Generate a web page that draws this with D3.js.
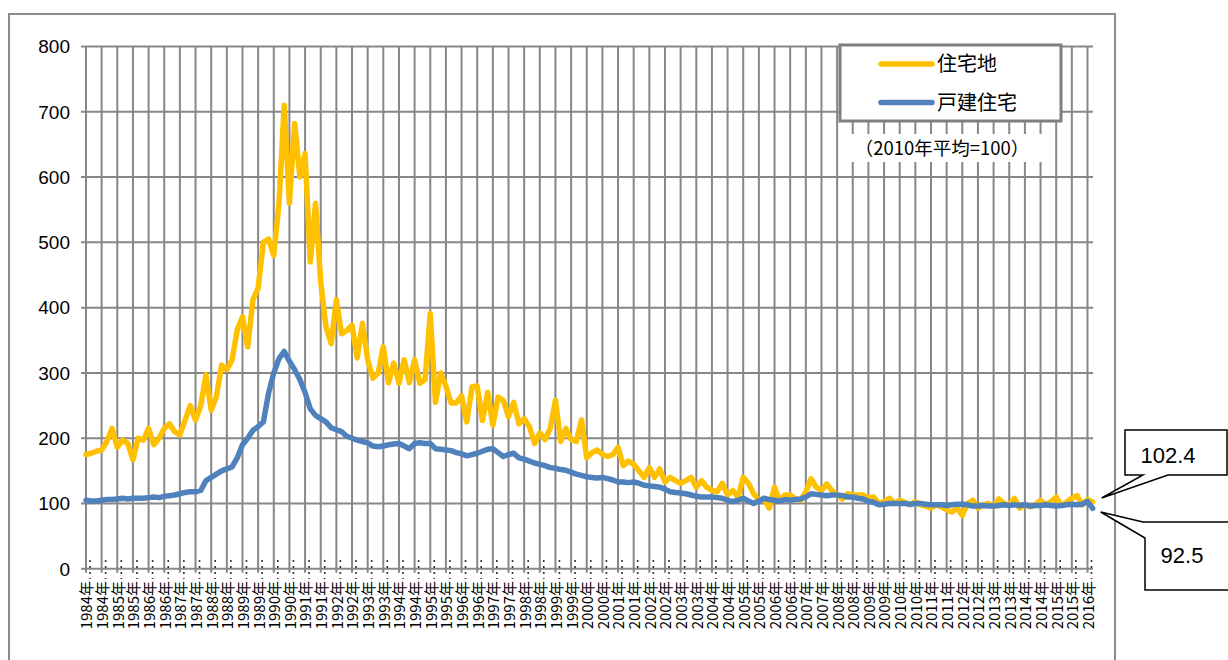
<!DOCTYPE html>
<html>
<head>
<meta charset="utf-8">
<script src="https://cdn.jsdelivr.net/npm/d3@7"></script>
<style>
  body { margin: 0; background: #fff; }
  svg { display: block; }
</style>
</head>
<body>
<script>
// bimonthly index values (2010 avg = 100), Jan 1984 .. Mar 2016
const startYear = 1984;
const stepMonths = 2;

const residentialLand = [
  175, 177, 180, 182, 195, 215,   // 1984
  186, 197, 192, 167, 200, 197,   // 1985
  215, 190, 200, 215, 222, 210,   // 1986
  205, 228, 250, 228, 250, 297,   // 1987
  243, 264, 312, 305, 320, 366,   // 1988
  386, 340, 412, 430, 500, 505,   // 1989
  480, 560, 710, 560, 682, 600,   // 1990
  636, 470, 560, 440, 371, 345,   // 1991
  412, 360, 365, 373, 323, 376,   // 1992
  320, 292, 300, 340, 285, 315,   // 1993
  284, 320, 285, 320, 284, 290,   // 1994
  391, 255, 300, 280, 254, 254,   // 1995
  265, 225, 279, 280, 227, 270,   // 1996
  220, 263, 258, 233, 255, 222,   // 1997
  230, 218, 192, 208, 198, 215,   // 1998
  258, 195, 215, 198, 195, 228,   // 1999
  170, 178, 182, 175, 172, 175,   // 2000
  186, 158, 165, 160, 150, 140,   // 2001
  155, 140, 153, 133, 140, 135,   // 2002
  131, 135, 140, 125, 135, 125,   // 2003
  120, 118, 131, 113, 120, 110,   // 2004
  140, 131, 115, 105, 107, 93,    // 2005
  125, 105, 113, 113, 107, 105,   // 2006
  118, 138, 125, 120, 130, 120,   // 2007
  113, 107, 115, 113, 113, 113,   // 2008
  108, 110, 100, 103, 108, 100,   // 2009
  105, 102, 98, 103, 98, 96,      // 2010
  93, 98, 95, 90, 87, 93,         // 2011
  82, 100, 105, 93, 98, 100,      // 2012
  95, 107, 100, 98, 108, 93,      // 2013
  98, 95, 98, 105, 98, 103,       // 2014
  110, 97, 102, 108, 112, 98,     // 2015
  106, 102.4                      // 2016
];

const detachedHouses = [
  105, 104, 104, 105, 106, 106,   // 1984
  107, 108, 107, 108, 108, 108,   // 1985
  109, 110, 109, 111, 112, 113,   // 1986
  115, 117, 118, 118, 120, 135,   // 1987
  140, 145, 150, 153, 156, 170,   // 1988
  190, 200, 212, 218, 225, 269,   // 1989
  300, 322, 333, 318, 305, 290,   // 1990
  270, 245, 235, 230, 225, 216,   // 1991
  213, 210, 203, 200, 197, 195,   // 1992
  193, 188, 187, 188, 190, 191,   // 1993
  192, 188, 184, 192, 193, 192,   // 1994
  192, 184, 183, 182, 181, 178,   // 1995
  176, 173, 175, 177, 180, 183,   // 1996
  184, 178, 172, 175, 177, 170,   // 1997
  168, 165, 162, 160, 158, 155,   // 1998
  154, 152, 151, 148, 145, 143,   // 1999
  141, 140, 139, 140, 138, 136,   // 2000
  133, 133, 132, 133, 131, 128,   // 2001
  127, 126, 125, 122, 118, 117,   // 2002
  116, 115, 113, 111, 110, 110,   // 2003
  110, 109, 108, 105, 103, 105,   // 2004
  108, 104, 100, 104, 108, 106,   // 2005
  105, 104, 106, 105, 106, 107,   // 2006
  110, 115, 114, 113, 112, 113,   // 2007
  113, 112, 110, 110, 108, 107,   // 2008
  103, 102, 98, 99, 100, 100,     // 2009
  100, 100, 99, 100, 100, 99,     // 2010
  98, 98, 98, 97, 98, 99,         // 2011
  99, 98, 96, 96, 97, 96,         // 2012
  96, 97, 98, 97, 98, 97,         // 2013
  98, 96, 97, 97, 98, 97,         // 2014
  96, 97, 98, 99, 98, 99,         // 2015
  103, 92.5                       // 2016
];

const seriesNames = ["住宅地", "戸建住宅"];
const seriesColors = ["#FFC000", "#4F81BD"];
const yTicks = [0, 100, 200, 300, 400, 500, 600, 700, 800];
const noteText = "（2010年平均=100）";
const lastLabels = ["102.4", "92.5"];

const W = 1228, H = 660;
const svg = d3.select("body").append("svg")
  .attr("width", W).attr("height", H);

// outer chart frame
svg.append("rect")
  .attr("x", 9).attr("y", 14)
  .attr("width", 1106).attr("height", 700)
  .attr("fill", "#fff")
  .attr("stroke", "#8c8c8c").attr("stroke-width", 2);

const lastMonth = (residentialLand.length - 1) * stepMonths;
const x = d3.scaleLinear().domain([0, lastMonth]).range([86, 1092.7]);
const y = d3.scaleLinear().domain([0, 800]).range([568.8, 46.5]);

const gridMonths = d3.range(0, lastMonth, 6); // every half year

// horizontal grid + ticks
svg.append("g").selectAll("line")
  .data(yTicks)
  .join("line")
  .attr("x1", 81).attr("x2", 1093)
  .attr("y1", d => y(d)).attr("y2", d => y(d))
  .attr("stroke", "#878787").attr("stroke-width", 2);

// vertical grid
svg.append("g").selectAll("line")
  .data(gridMonths)
  .join("line")
  .attr("x1", d => x(d)).attr("x2", d => x(d))
  .attr("y1", y(800)).attr("y2", y(0) + 4)
  .attr("stroke", "#878787").attr("stroke-width", 2);

// dotted minor marks near the axis
svg.append("g").selectAll("line")
  .data(gridMonths)
  .join("line")
  .attr("x1", d => x(d) + 4).attr("x2", d => x(d) + 4)
  .attr("y1", 560).attr("y2", 579)
  .attr("stroke", "#333").attr("stroke-width", 1.6)
  .attr("stroke-dasharray", "2,4");

// y labels
svg.append("g").selectAll("text")
  .data(yTicks)
  .join("text")
  .attr("x", 70).attr("y", d => y(d))
  .attr("dy", "0.36em")
  .attr("text-anchor", "end")
  .style("font-family", "'Liberation Sans', Arial, sans-serif")
  .style("font-size", "19px")
  .attr("fill", "#000")
  .text(d => d);

// x labels (rotated)
svg.append("g").selectAll("text")
  .data(gridMonths)
  .join("text")
  .attr("transform", d => `translate(${x(d) + 1},581) rotate(-90)`)
  .attr("text-anchor", "end")
  .attr("dy", "0.36em")
  .style("font-family", "'Noto Sans CJK JP', sans-serif")
  .style("font-size", "15px")
  .attr("fill", "#000")
  .text(d => (startYear + Math.floor(d / 12)) + "年");

// series lines
const line = d3.line()
  .x((d, i) => x(i * stepMonths))
  .y(d => y(d))
  .curve(d3.curveLinear);

[residentialLand, detachedHouses].forEach((s, k) => {
  svg.append("path")
    .datum(s)
    .attr("d", line)
    .attr("fill", "none")
    .attr("stroke", seriesColors[k])
    .attr("stroke-width", 5.5)
    .attr("stroke-linejoin", "round")
    .attr("stroke-linecap", "round");
});

// legend
const legend = svg.append("g");
legend.append("rect")
  .attr("x", 840).attr("y", 45)
  .attr("width", 221).attr("height", 76)
  .attr("fill", "#fff")
  .attr("stroke", "#7f7f7f").attr("stroke-width", 3);
seriesNames.forEach((name, k) => {
  const ly = 64 + k * 38.5;
  legend.append("line")
    .attr("x1", 881).attr("x2", 932)
    .attr("y1", ly).attr("y2", ly)
    .attr("stroke", seriesColors[k])
    .attr("stroke-width", 5.5)
    .attr("stroke-linecap", "round");
  legend.append("text")
    .attr("x", 937).attr("y", ly)
    .attr("dy", "0.36em")
    .style("font-family", "'Noto Sans CJK JP', sans-serif")
    .style("font-size", "20px")
    .text(name);
});

// base note
svg.append("rect")
  .attr("x", 846).attr("y", 134)
  .attr("width", 196).attr("height", 28)
  .attr("fill", "#fff");
svg.append("text")
  .attr("x", 942).attr("y", 148)
  .attr("dy", "0.36em")
  .attr("text-anchor", "middle")
  .style("font-family", "'Noto Sans CJK JP', sans-serif")
  .style("font-size", "18.5px")
  .text(noteText);

// callouts for the last values
const endX = x(lastMonth);
const callouts = svg.append("g")
  .attr("fill", "#fff").attr("stroke", "#000").attr("stroke-width", 1.5);
const tipX = endX + 9;
callouts.append("path")
  .attr("d", `M1125,430 H1227 V475 H1168 L${tipX},498 L1143,475 H1125 Z`);
callouts.append("path")
  .attr("d", `M1143,522 H1230 V590 H1145 V538 L${tipX - 1},512 Z`);

svg.append("text")
  .attr("x", 1168).attr("y", 455)
  .attr("dy", "0.36em")
  .attr("text-anchor", "middle")
  .style("font-family", "'Liberation Sans', Arial, sans-serif")
  .style("font-size", "22px")
  .text(lastLabels[0]);
svg.append("text")
  .attr("x", 1182).attr("y", 555)
  .attr("dy", "0.36em")
  .attr("text-anchor", "middle")
  .style("font-family", "'Liberation Sans', Arial, sans-serif")
  .style("font-size", "22px")
  .text(lastLabels[1]);
</script>
</body>
</html>
